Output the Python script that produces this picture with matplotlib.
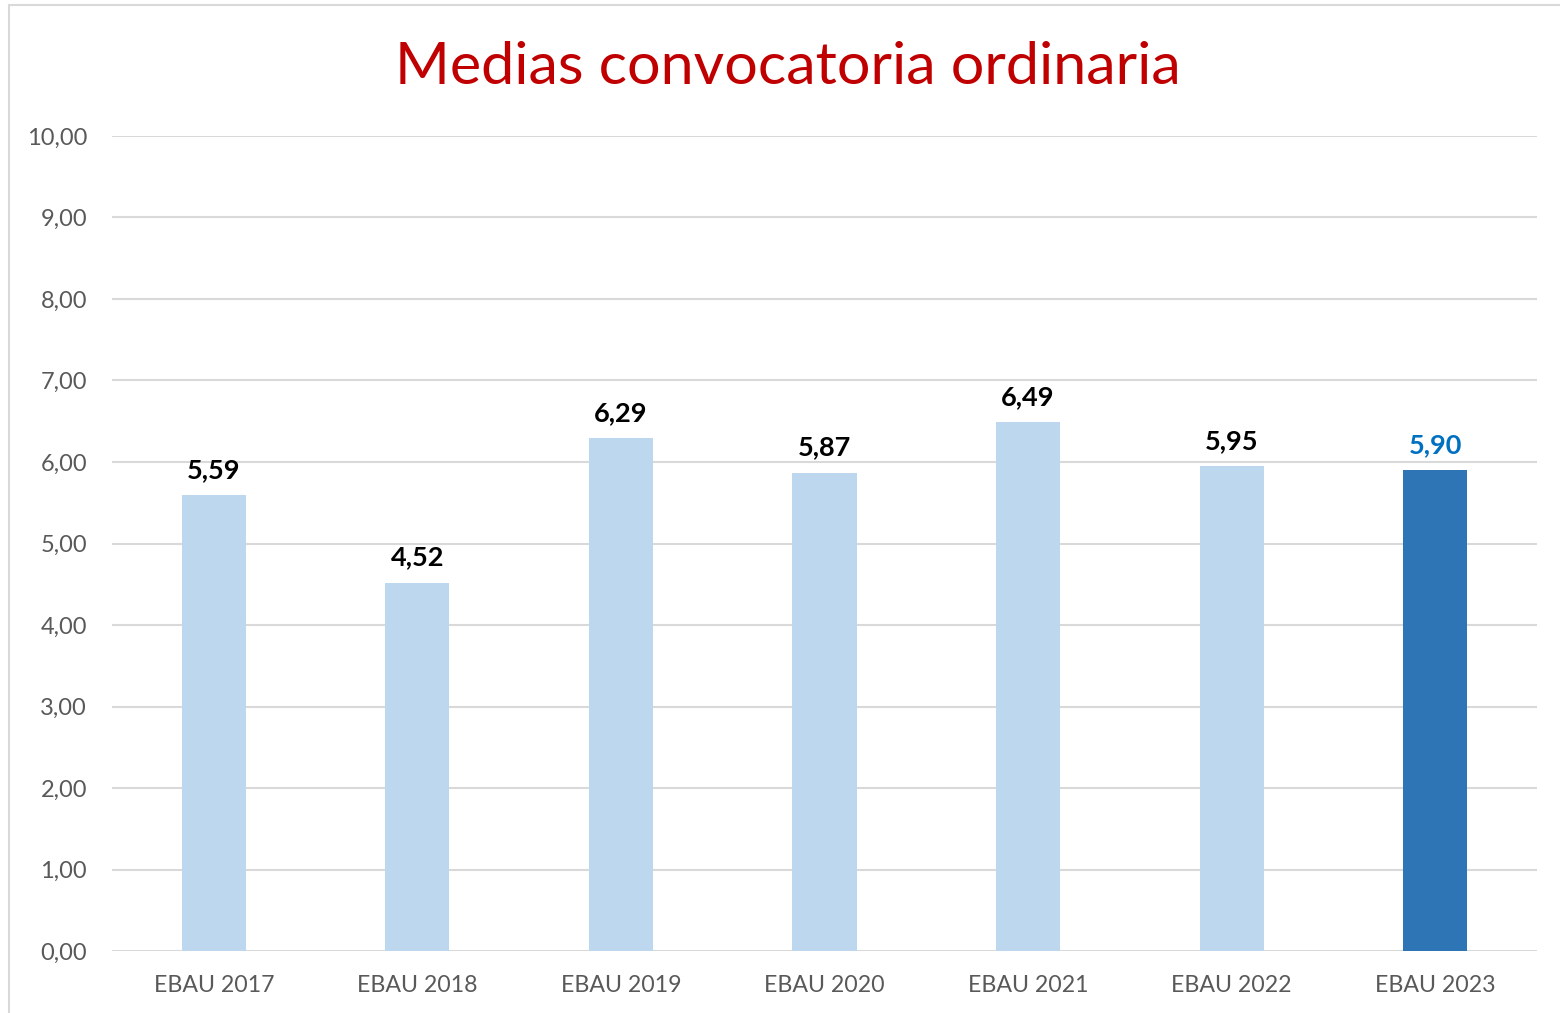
import matplotlib

matplotlib.use("Agg")
import matplotlib.pyplot as plt
from matplotlib.patches import Rectangle

# values
categories = ["EBAU 2017", "EBAU 2018", "EBAU 2019", "EBAU 2020",
              "EBAU 2021", "EBAU 2022", "EBAU 2023"]
medias = [5.59, 4.52, 6.29, 5.87, 6.49, 5.95, 5.90]
yticks = [0, 1, 2, 3, 4, 5, 6, 7, 8, 9, 10]

LIGHT = "#bdd7ee"
DARK = "#2e75b6"

plt.rcParams["font.family"] = ["Lato", "DejaVu Sans"]

fig = plt.figure(figsize=(15.6, 10.13), dpi=100)
# light frame, only top/left visible in the reference
fig.patches.append(Rectangle((9 / 1560, -0.05), 1.2, 1 - 5 / 1013 + 0.05,
                             transform=fig.transFigure, fill=False,
                             edgecolor="#d9d9d9", linewidth=1.5))

ax = fig.add_axes([112 / 1560, 1 - 951 / 1013, 1425 / 1560, 815 / 1013])
x = range(len(categories))
colors = [LIGHT] * (len(medias) - 1) + [DARK]
ax.bar(x, medias, width=0.315, color=colors, zorder=3)

ax.set_ylim(0, 10)
ax.set_xlim(-0.5, len(categories) - 0.5)
ax.set_yticks(yticks)
ax.set_yticklabels([f"{v:.2f}".replace(".", ",") for v in yticks])
ax.set_xticks(list(x))
ax.set_xticklabels(categories)
ax.tick_params(axis="both", length=0, colors="#595959")
ax.tick_params(axis="y", pad=18, labelsize=17)
ax.tick_params(axis="x", pad=17, labelsize=16.7)
ax.grid(axis="y", color="#d9d9d9", linewidth=1.5, zorder=0)
for s in ax.spines.values():
    s.set_visible(False)

for i, v in enumerate(medias):
    ax.text(i, v + 0.16, f"{v:.2f}".replace(".", ","), ha="center", va="bottom",
            fontsize=19.5, fontweight="bold",
            color="#0070c0" if i == len(medias) - 1 else "black")

fig.text(0.505, 1 - 68 / 1013, "Medias convocatoria ordinaria", ha="center",
         va="center", fontsize=42.7, color="#c00000")

fig.savefig("out.png", dpi=100)
